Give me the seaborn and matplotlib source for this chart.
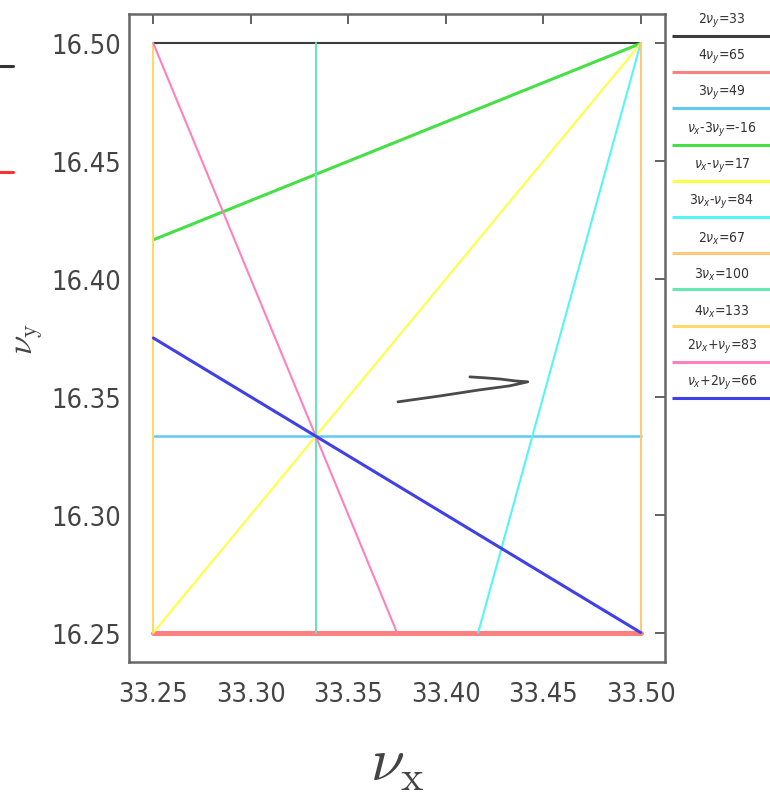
import numpy as np
import pandas as pd
import seaborn as sns
import matplotlib
matplotlib.use('Agg')
import matplotlib.pyplot as plt
from matplotlib.lines import Line2D

# resonance lines  a*nux + b*nuy = c
labels = [r'$2\nu_y$=33', r'$4\nu_y$=65', r'$3\nu_y$=49', r'$\nu_x$-$3\nu_y$=-16',
          r'$\nu_x$-$\nu_y$=17', r'$3\nu_x$-$\nu_y$=84', r'$2\nu_x$=67', r'$3\nu_x$=100',
          r'$4\nu_x$=133', r'$2\nu_x$+$\nu_y$=83', r'$\nu_x$+$2\nu_y$=66']
coef_x = [0, 0, 0, 1, 1, 3, 2, 3, 4, 2, 1]
coef_y = [2, 4, 3, -3, -1, -1, 0, 0, 0, 1, 2]
rhs = [33, 65, 49, -16, 17, 84, 67, 100, 133, 83, 66]
colors = ['#3c3c3c', '#ff8080', '#62c8f5', '#44e044', '#ffff44', '#55f5f5',
          '#ffc878', '#66e8b4', '#ffd966', '#ff80c0', '#4040e8']
widths = [1.5, 3.6, 1.8, 2.2, 1.5, 1.5, 1.5, 1.5, 1.5, 1.5, 2.2]

# tune window
box_x = (33.25, 33.50)
box_y = (16.25, 16.50)

# tune trajectory
trace_x = [33.3755, 33.397, 33.4175, 33.4329, 33.4421, 33.4355, 33.4278, 33.4201, 33.4124]
trace_y = [16.3479, 16.3504, 16.3530, 16.3547, 16.3564, 16.3568, 16.3576, 16.3581, 16.3585]

xticks = [33.25, 33.30, 33.35, 33.40, 33.45, 33.50]
yticks = [16.25, 16.30, 16.35, 16.40, 16.45, 16.50]


def clip_box(a, b, c):
    x0, x1 = box_x
    y0, y1 = box_y
    pts = []
    if b != 0:
        for x in (x0, x1):
            y = (c - a * x) / b
            if y0 - 1e-9 <= y <= y1 + 1e-9:
                pts.append((x, y))
    if a != 0:
        for y in (y0, y1):
            x = (c - b * y) / a
            if x0 - 1e-9 <= x <= x1 + 1e-9:
                pts.append((x, y))
    uniq = []
    for p in pts:
        if not any(abs(p[0] - q[0]) < 1e-9 and abs(p[1] - q[1]) < 1e-9 for q in uniq):
            uniq.append(p)
    uniq.sort()
    return uniq[0], uniq[-1]


sns.set_style('white')
plt.rcParams['font.family'] = ['DejaVu Sans']
plt.rcParams['font.stretch'] = 'condensed'
plt.rcParams['mathtext.fontset'] = 'dejavusans'

fig = plt.figure(figsize=(7.7, 8.04), dpi=100)
ax = fig.add_axes([129 / 770, 1 - 663 / 804, 536 / 770, 648 / 804])

rows = []
for i in range(len(labels)):
    p, q = clip_box(coef_x[i], coef_y[i], rhs[i])
    rows.append({'line': labels[i], 'nux': p[0], 'nuy': p[1]})
    rows.append({'line': labels[i], 'nux': q[0], 'nuy': q[1]})
resFrame = pd.DataFrame(rows)

for i, lab in enumerate(labels):
    sub = resFrame[resFrame['line'] == lab]
    sns.lineplot(data=sub, x='nux', y='nuy', sort=False, estimator=None,
                 color=colors[i], linewidth=widths[i], ax=ax, legend=False)

traceFrame = pd.DataFrame({'nux': trace_x, 'nuy': trace_y})
sns.lineplot(data=traceFrame, x='nux', y='nuy', sort=False, estimator=None,
             color='#4a4a4a', linewidth=2.0, ax=ax, legend=False)

ax.set_xlim(33.2375, 33.5125)
ax.set_ylim(16.2375, 16.5125)
ax.set_xticks(xticks)
ax.set_yticks(yticks)
ax.set_xticklabels([f'{v:.2f}' for v in xticks])
ax.set_yticklabels([f'{v:.2f}' for v in yticks])
ax.tick_params(direction='in', top=True, right=True, length=7, width=1.3,
               color='#555555', labelcolor='#444444', labelsize=19.5)
ax.tick_params(axis='x', pad=14)
ax.tick_params(axis='y', pad=6)
for s in ax.spines.values():
    s.set_color('#666666')
    s.set_linewidth(1.8)

ax.set_xlabel(r'$\nu_{\rm x}$', fontsize=44, color='#444444',
              math_fontfamily='cm')
ax.xaxis.set_label_coords(0.5, -0.11)
ax.set_ylabel(r'$\nu_{\rm y}$', fontsize=25, color='#444444',
              math_fontfamily='cm')
ax.yaxis.set_label_coords(-0.155, 0.5)
ax.grid(False)

# legend panel
lax = fig.add_axes([668 / 770, 0, 102 / 770, 1])
lax.set_xlim(0, 1)
lax.set_ylim(804, 0)
lax.axis('off')
for i, lab in enumerate(labels):
    yl = 37 + i * 36.2
    lax.plot([0.04, 1.0], [yl, yl], color=colors[i], linewidth=2.2, solid_capstyle='butt')
    lax.text(0.53, yl - 7, lab, ha='center', va='bottom', fontsize=10, color='#333333')

# fragments of a neighbouring legend at the left edge
fig.add_artist(Line2D([0, 13 / 770], [1 - 67 / 804] * 2, color='#333333', linewidth=2.2))
fig.add_artist(Line2D([0, 13 / 770], [1 - 173 / 804] * 2, color='#ff3030', linewidth=2.2))

fig.savefig('out.png', dpi=100)
